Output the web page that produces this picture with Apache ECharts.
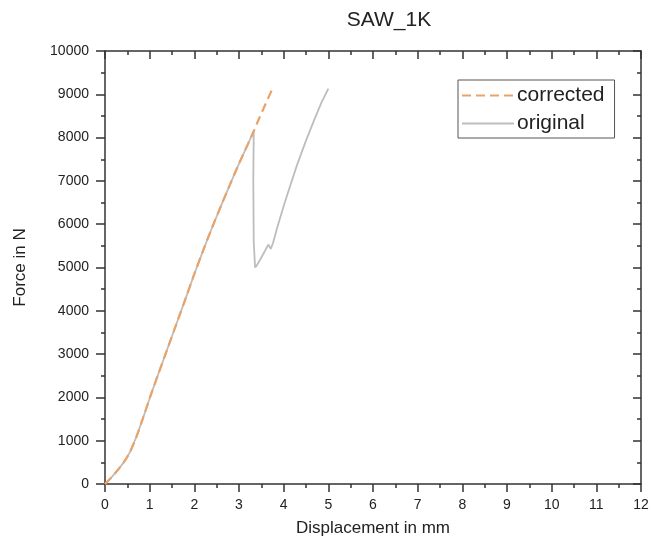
<!DOCTYPE html>
<html>
<head>
<meta charset="utf-8">
<script src="https://cdn.jsdelivr.net/npm/echarts@6/dist/echarts.min.js"></script>
<style>html,body{margin:0;padding:0;background:#fff}#c{width:652px;height:544px}</style>
</head>
<body>
<div id="c"></div>
<script>
const titleText = 'SAW_1K';
const xName = 'Displacement in mm';
const yName = 'Force in N';
const seriesNames = ['corrected', 'original'];

const corrDisp  = [0, 0.15, 0.3, 0.42, 0.55, 0.7, 0.85, 1.0, 1.2, 1.4, 1.6, 1.8, 2.0, 2.2, 2.4, 2.6, 2.8, 3.0, 3.2, 3.33, 3.45, 3.6, 3.74];
const corrForce = [0, 160, 340, 500, 720, 1080, 1520, 1980, 2560, 3130, 3700, 4270, 4850, 5400, 5930, 6430, 6920, 7400, 7850, 8150, 8440, 8790, 9110];

const origDisp  = [0, 0.15, 0.3, 0.42, 0.55, 0.7, 0.85, 1.0, 1.2, 1.4, 1.6, 1.8, 2.0, 2.2, 2.4, 2.6, 2.8, 3.0, 3.2, 3.33, 3.32, 3.33, 3.36, 3.4, 3.5, 3.6, 3.66, 3.71, 3.76, 3.85, 4.0, 4.15, 4.3, 4.5, 4.7, 4.85, 5.0];
const origForce = [0, 160, 340, 500, 720, 1080, 1520, 1980, 2560, 3130, 3700, 4270, 4850, 5400, 5930, 6430, 6920, 7400, 7850, 8150, 7000, 5600, 5000, 5050, 5230, 5420, 5530, 5430, 5560, 5900, 6420, 6900, 7370, 7930, 8450, 8820, 9130];

const zip = (a, b) => a.map((v, i) => [v, b[i]]);

const chart = echarts.init(document.getElementById('c'), null, {renderer: 'canvas'});
const axisColor = '#333';
const font = 'Liberation Sans, Arial, sans-serif';
const labelStyle = {color: '#222', fontSize: 14, fontFamily: font, formatter: v => String(v)};

chart.setOption({
  animation: false,
  backgroundColor: '#fff',
  title: {
    text: titleText, left: 384, top: 5, textAlign: 'center',
    textStyle: {fontSize: 21, fontWeight: 'normal', color: '#222', fontFamily: font}
  },
  grid: {left: 105, right: 11, top: 51, bottom: 60, containLabel: false},
  legend: {
    data: seriesNames,
    orient: 'vertical',
    left: 458, top: 80,
    itemWidth: 52, itemHeight: 14, itemGap: 7,
    padding: [5, 10, 4, 3],
    borderColor: '#555', borderWidth: 1,
    itemStyle: {color: 'rgba(0,0,0,0)', borderWidth: 0, opacity: 0},
    textStyle: {fontSize: 21, color: '#222', fontFamily: font, padding: [0, 0, 0, -2]}
  },
  xAxis: [{
    type: 'value', min: 0, max: 12, interval: 1, position: 'bottom',
    name: xName, nameLocation: 'middle', nameGap: 36,
    nameTextStyle: {fontSize: 17, color: '#222', fontFamily: font},
    axisLine: {show: true, onZero: false, lineStyle: {color: axisColor, width: 1.5}},
    axisTick: {show: true, length: 8, lineStyle: {color: axisColor, width: 1.5}},
    minorTick: {show: true, splitNumber: 2, length: 4, lineStyle: {color: axisColor, width: 1.5}},
    axisLabel: Object.assign({margin: 14}, labelStyle),
    splitLine: {show: false}
  }, {
    type: 'value', min: 0, max: 12, interval: 1, position: 'top',
    axisLine: {show: true, onZero: false, lineStyle: {color: axisColor, width: 1.5}},
    axisTick: {show: true, inside: true, length: 8, lineStyle: {color: axisColor, width: 1.5}},
    minorTick: {show: true, splitNumber: 2, length: 4, lineStyle: {color: axisColor, width: 1.5}},
    axisLabel: {show: false},
    splitLine: {show: false}
  }],
  yAxis: [{
    type: 'value', min: 0, max: 10000, interval: 1000, position: 'left',
    name: yName, nameLocation: 'middle', nameGap: 76, nameRotate: 90,
    nameTextStyle: {fontSize: 17, color: '#222', fontFamily: font},
    axisLine: {show: true, onZero: false, lineStyle: {color: axisColor, width: 1.5}},
    axisTick: {show: true, length: 9, lineStyle: {color: axisColor, width: 1.5}},
    minorTick: {show: true, splitNumber: 2, length: 4, lineStyle: {color: axisColor, width: 1.5}},
    axisLabel: Object.assign({margin: 16}, labelStyle),
    splitLine: {show: false}
  }, {
    type: 'value', min: 0, max: 10000, interval: 1000, position: 'right',
    axisLine: {show: true, onZero: false, lineStyle: {color: axisColor, width: 1.5}},
    axisTick: {show: true, inside: true, length: 8, lineStyle: {color: axisColor, width: 1.5}},
    minorTick: {show: true, splitNumber: 2, length: 4, lineStyle: {color: axisColor, width: 1.5}},
    axisLabel: {show: false},
    splitLine: {show: false}
  }],
  series: [{
    name: seriesNames[1], type: 'line', xAxisIndex: 0, yAxisIndex: 0,
    data: zip(origDisp, origForce), symbol: 'none', smooth: false,
    lineStyle: {color: '#bdbdbd', width: 1.8},
    itemStyle: {color: '#bdbdbd'}, z: 2
  }, {
    name: seriesNames[0], type: 'line', xAxisIndex: 0, yAxisIndex: 0,
    data: zip(corrDisp, corrForce), symbol: 'none', smooth: 0.3,
    lineStyle: {color: '#EBA267', width: 2.2, type: [9, 5]},
    itemStyle: {color: '#EBA267'}, z: 3
  }]
});
</script>
</body>
</html>
